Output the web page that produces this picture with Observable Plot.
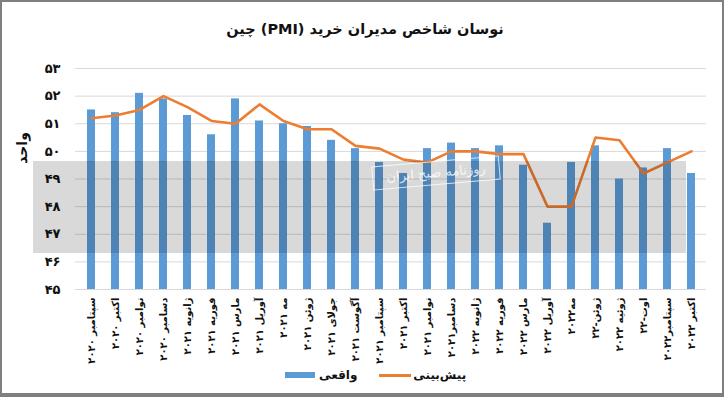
<!DOCTYPE html>
<html><head><meta charset="utf-8">
<script src="https://cdn.jsdelivr.net/npm/d3@7"></script>
<script src="https://cdn.jsdelivr.net/npm/@observablehq/plot@0.6"></script>
<style>
body{margin:0;background:#fff;}
#wrap{position:relative;width:724px;height:397px;overflow:hidden;background:#fff;font-family:"DejaVu Sans",sans-serif;color:#111;}
#frame{position:absolute;left:0;top:0;width:724px;height:397px;box-sizing:border-box;border:2px solid #7f7f7f;border-bottom-width:4px;pointer-events:none;}
#title{position:absolute;top:21px;left:0;width:730px;text-align:center;font-weight:bold;font-size:14.5px;direction:rtl;}
#chart{position:absolute;left:0;top:50px;}
#chart svg{overflow:visible;}
#ylab{position:absolute;left:2px;top:140px;width:40px;text-align:center;font-weight:bold;font-size:14px;transform:rotate(-90deg);direction:rtl;}
#band{position:absolute;left:33px;top:161px;width:653px;height:92px;background:rgba(0,0,0,0.15);pointer-events:none;}
#wm{position:absolute;left:372px;top:161px;width:126px;height:22px;border:1.5px solid rgba(255,255,255,0.75);color:rgba(255,255,255,0.8);font-size:13px;text-align:center;line-height:22px;transform:rotate(-5deg);direction:rtl;}
#legend{position:absolute;left:285px;top:368px;display:flex;align-items:center;direction:ltr;font-weight:bold;font-size:12px;}
.sw{width:30px;height:6px;background:#5b9bd5;}
.ln{width:32px;height:3px;background:#ed7d31;}
</style>
</head><body>
<div id="wrap">
  <div id="title">نوسان شاخص مدیران خرید (PMI) چین</div>
  <div id="chart"></div>
  <div id="ylab">واحد</div>
  <div id="band"></div>
  <div id="wm">روزنامه صبح ایران</div>
  <div id="legend">
    <div class="sw"></div><span style="margin-left:4px;margin-right:22px">واقعی</span>
    <div class="ln"></div><span style="margin-left:2px">پیش‌بینی</span>
  </div>
  <div id="frame"></div>
</div>
<script>
const months = ["سپتامبر ۲۰۲۰","اکتبر ۲۰۲۰","نوامبر ۲۰۲۰","دسامبر ۲۰۲۰","ژانویه ۲۰۲۱","فوریه ۲۰۲۱","مارس ۲۰۲۱","آوریل ۲۰۲۱","مه ۲۰۲۱","ژوئن ۲۰۲۱","جولای ۲۰۲۱","آگوست ۲۰۲۱","سپتامبر ۲۰۲۱","اکتبر ۲۰۲۱","نوامبر ۲۰۲۱","دسامبر۲۰۲۱","ژانویه ۲۰۲۲","فوریه ۲۰۲۲","مارس ۲۰۲۲","آوریل ۲۰۲۲","مه۲۰۲۲","ژوئن-۲۲","ژوئیه ۲۰۲۲","اوت-۲۲","سپتامبر۲۰۲۲","اکتبر ۲۰۲۲"];
const actual = [51.5,51.4,52.1,51.9,51.3,50.6,51.9,51.1,51.0,50.9,50.4,50.1,49.6,49.2,50.1,50.3,50.1,50.2,49.5,47.4,49.6,50.2,49.0,49.4,50.1,49.2];
const forecast = [51.2,51.3,51.5,52.0,51.6,51.1,51.0,51.7,51.1,50.8,50.8,50.2,50.1,49.7,49.6,50.0,50.0,49.9,49.9,48.0,48.0,50.5,50.4,49.2,49.6,50.0];
const yTicks = [45,46,47,48,49,50,51,52,53];
const yTickLabels = ["۴۵","۴۶","۴۷","۴۸","۴۹","۵۰","۵۱","۵۲","۵۳"];

const rows = months.map((m,i)=>({month:m, actual:actual[i], forecast:forecast[i]}));

const chart = Plot.plot({
  width:724, height:315,
  marginTop:18, marginBottom:76, marginLeft:75, marginRight:18,
  style:{fontFamily:"DejaVu Sans, sans-serif", background:"transparent", color:"#111", overflow:"visible"},
  x:{type:"band", domain:months, paddingInner:0.67, paddingOuter:0.335, label:null, axis:null},
  y:{domain:[45,53], label:null, axis:null},
  marks:[
    Plot.gridY(yTicks, {stroke:"#d9d9d9", strokeOpacity:1, strokeWidth:1}),
    Plot.axisY({ticks:yTicks, tickFormat:d=>yTickLabels[yTicks.indexOf(d)], tickSize:0, tickPadding:15, fontSize:13, fontWeight:"bold", label:null}),
    Plot.axisX({tickRotate:-90, tickSize:0, tickPadding:8, fontSize:10, fontWeight:"bold", label:null}),
    Plot.barY(rows, {x:"month", y1:45, y2:"actual", fill:"#5b9bd5"}),
    Plot.lineY(rows, {x:"month", y:"forecast", stroke:"#ed7d31", strokeWidth:2.6})
  ]
});
document.getElementById("chart").appendChild(chart);
</script>
</body></html>
